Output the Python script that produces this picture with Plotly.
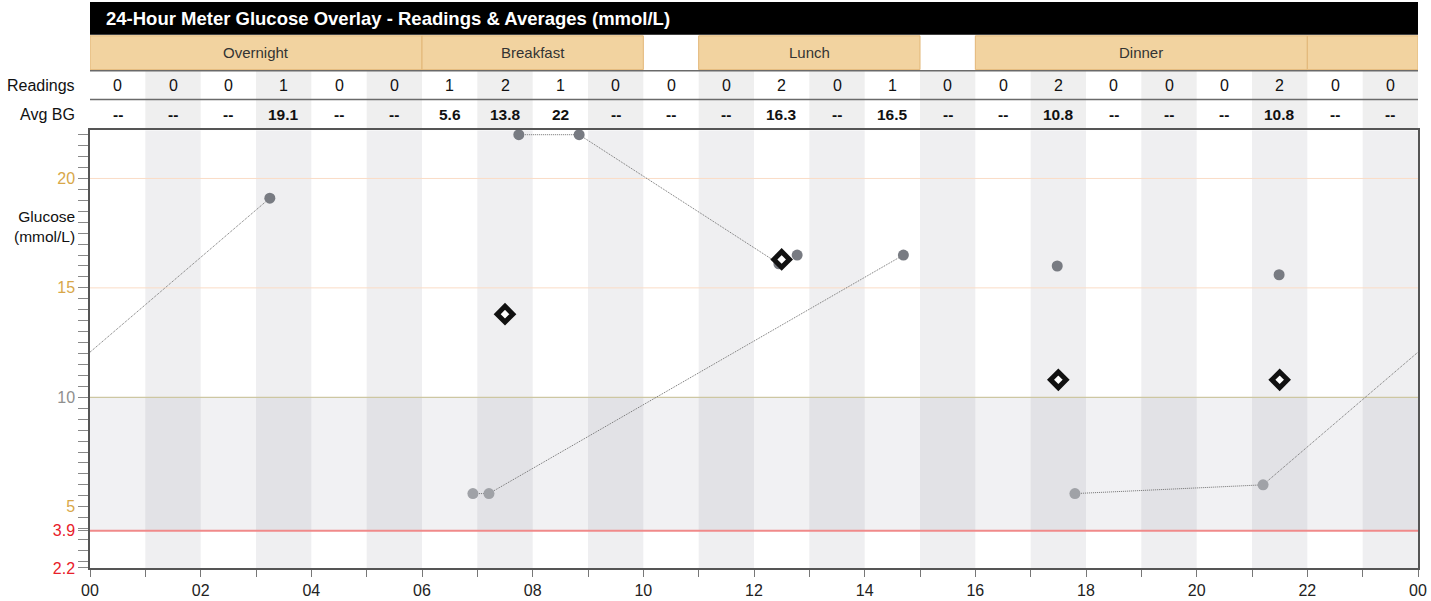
import plotly.graph_objects as go

# hourly table rows
hours = list(range(24))
readings_count = [0, 0, 0, 1, 0, 0, 1, 2, 1, 0, 0, 0, 2, 0, 1, 0, 0, 2, 0, 0, 0, 2, 0, 0]
avg_bg = [None, None, None, 19.1, None, None, 5.6, 13.8, 22, None, None, None,
          16.3, None, 16.5, None, None, 10.8, None, None, None, 10.8, None, None]

# meal periods (start hour, end hour, label)
meal_start = [0, 6, 11, 16, 22]
meal_end = [6, 10, 15, 22, 24]
meal_label = ["Overnight", "Breakfast", "Lunch", "Dinner", ""]

# meter readings, one list per day (connected), plus single readings
day1_time = [6.92, 7.21, 14.7]
day1_bg = [5.6, 5.6, 16.5]
day2_time = [7.75, 8.84, 12.45]
day2_bg = [22.0, 22.0, 16.1]
day3_time = [17.8, 21.2]
day3_bg = [5.6, 6.0]
next_day_time = [3.25]
next_day_bg = [19.1]
single_time = [12.78, 17.48, 21.49]
single_bg = [16.5, 16.0, 15.6]

x_labels = ["00", "02", "04", "06", "08", "10", "12", "14", "16", "18", "20", "22", "00"]

W, H = 1431, 601
TOP, BOT = 2, 30
FONT = "Liberation Sans, Arial, sans-serif"


def py(px):
    # pixel row -> paper y
    return (H - BOT - px) / (H - BOT - TOP)


fig = go.Figure()

line_style = dict(color="#6f6f6f", width=1, dash="1px,1px")

# daily connecting lines
for t, v in [(day1_time, day1_bg), (day2_time, day2_bg), (day3_time, day3_bg)]:
    fig.add_trace(go.Scatter(x=t, y=v, mode="lines", line=line_style,
                             hoverinfo="skip", showlegend=False))

# wrap line from last reading of the day to the next day's first reading
t0, v0 = day3_time[-1], day3_bg[-1]
t1, v1 = next_day_time[0] + 24, next_day_bg[0]
wrap = v0 + (24 - t0) / (t1 - t0) * (v1 - v0)
fig.add_trace(go.Scatter(x=[t0, 24], y=[v0, wrap], mode="lines", line=line_style,
                         hoverinfo="skip", showlegend=False))
fig.add_trace(go.Scatter(x=[0, next_day_time[0]], y=[wrap, v1], mode="lines", line=line_style,
                         hoverinfo="skip", showlegend=False))

# reading markers
all_t = day1_time + day2_time + day3_time + next_day_time + single_time
all_v = day1_bg + day2_bg + day3_bg + next_day_bg + single_bg
colors = ["#a0a2a7" if 3.9 <= v <= 10 else "#787b82" for v in all_v]
fig.add_trace(go.Scatter(x=all_t, y=all_v, mode="markers",
                         marker=dict(size=11, color=colors),
                         showlegend=False, cliponaxis=False))

# hourly averages (hours with 2+ readings)
avg_x = [h + 0.5 for h, c in zip(hours, readings_count) if c >= 2]
avg_y = [a for a, c in zip(avg_bg, readings_count) if c >= 2]
fig.add_trace(go.Scatter(x=avg_x, y=avg_y, mode="markers",
                         marker=dict(symbol="diamond", size=12, color="white",
                                     line=dict(color="#111111", width=5)),
                         showlegend=False))

shapes = []
# hour stripes in plot and table
for h in hours:
    if h % 2 == 1:
        shapes.append(dict(type="rect", xref="x", yref="y", x0=h, x1=h + 1, y0=2.2, y1=22.2,
                           fillcolor="#efeff1", line=dict(width=0), layer="below"))
        shapes.append(dict(type="rect", xref="x", yref="paper", x0=h, x1=h + 1,
                           y0=py(130), y1=py(71),
                           fillcolor="#efefef", line=dict(width=0), layer="below"))
# target band
shapes.append(dict(type="rect", xref="x", yref="y", x0=0, x1=24, y0=3.9, y1=10,
                   fillcolor="rgba(60,60,90,0.07)", line=dict(width=0), layer="below"))
# reference lines
for yv, col, w in [(20, "#fadcc6", 1), (15, "#fadcc6", 1), (10, "#cdc7a2", 1.2), (3.9, "#f08a8a", 2)]:
    shapes.append(dict(type="line", xref="x", yref="y", x0=0, x1=24, y0=yv, y1=yv,
                       line=dict(color=col, width=w), layer="below"))

# title bar
shapes.append(dict(type="rect", xref="x", yref="paper", x0=0, x1=24, y0=py(35), y1=py(2),
                   fillcolor="black", line=dict(width=0)))
# meal row
for s, e in zip(meal_start, meal_end):
    shapes.append(dict(type="rect", xref="x", yref="paper", x0=s, x1=e, y0=py(70), y1=py(36),
                       fillcolor="#f2d3a0", line=dict(color="#e2b677", width=1)))
# table borders
for ypx in [71, 100]:
    shapes.append(dict(type="line", xref="x", yref="paper", x0=0, x1=24, y0=py(ypx), y1=py(ypx),
                       line=dict(color="#6a6a6a", width=1.5)))

annotations = [
    dict(text="<b>24-Hour Meter Glucose Overlay - Readings & Averages (mmol/L)</b>",
         xref="paper", yref="paper", x=14 / 1328, y=py(18.5), xanchor="left", yanchor="middle",
         showarrow=False, font=dict(color="white", size=18.5)),
    dict(text="Readings", xref="paper", yref="paper", x=-13 / 1328, y=py(85.5),
         xanchor="right", yanchor="middle", showarrow=False, font=dict(size=16, color="#111")),
    dict(text="Avg BG", xref="paper", yref="paper", x=-13 / 1328, y=py(115),
         xanchor="right", yanchor="middle", showarrow=False, font=dict(size=16, color="#111")),
    dict(text="Glucose<br>(mmol/L)", xref="paper", yref="y", x=-13 / 1328, y=17.8,
         xanchor="right", yanchor="middle", align="right", showarrow=False,
         font=dict(size=15.5, color="#111")),
]
for s, e, lab in zip(meal_start, meal_end, meal_label):
    if lab:
        annotations.append(dict(text=lab, xref="x", yref="paper", x=(s + e) / 2, y=py(53),
                                xanchor="center", yanchor="middle",
                                showarrow=False, font=dict(size=15, color="#333")))
for h, c, a in zip(hours, readings_count, avg_bg):
    annotations.append(dict(text=str(c), xref="x", yref="paper", x=h + 0.5, y=py(85.5),
                            xanchor="center", yanchor="middle",
                            showarrow=False, font=dict(size=16, color="#111")))
    txt = "--" if a is None else f"{a:g}"
    annotations.append(dict(text=f"<b>{txt}</b>", xref="x", yref="paper", x=h + 0.5, y=py(115),
                            xanchor="center", yanchor="middle",
                            showarrow=False, font=dict(size=15.5, color="#111")))

gold, grey, red = "#d8a748", "#8f8f8f", "#e8202a"
y_ticks = [2.2, 3.9, 5, 10, 15, 20]
y_colors = [red, red, gold, grey, gold, gold]
y_text = [f"<span style='color:{c}'>{v:g}</span>" for v, c in zip(y_ticks, y_colors)]

fig.update_layout(
    width=W, height=H,
    margin=dict(l=90, r=13, t=TOP, b=BOT),
    plot_bgcolor="white", paper_bgcolor="white",
    font=dict(family=FONT, color="#111"),
    shapes=shapes, annotations=annotations,
    xaxis=dict(range=[0, 24], tickvals=list(range(0, 25, 2)), ticktext=x_labels,
               ticks="outside", ticklen=7, tickcolor="#777",
               minor=dict(dtick=1, ticks="outside", ticklen=7, tickcolor="#777"),
               showline=True, linecolor="#555", linewidth=1.5, mirror=True,
               showgrid=False, zeroline=False, tickfont=dict(size=16, color="#222")),
    yaxis=dict(range=[2.2, 22.2], domain=[0, py(131)], tickvals=y_ticks, ticktext=y_text,
               ticks="outside", ticklen=10, tickcolor="#888",
               minor=dict(dtick=0.5, tick0=0, ticks="outside", ticklen=10, tickcolor="#888"),
               showline=True, linecolor="#555", linewidth=1.5, mirror=True,
               showgrid=False, zeroline=False, tickfont=dict(size=16)),
)

fig.write_html("out.html", config={"displayModeBar": False},
               post_script="document.body.style.margin='0';document.body.style.overflow='hidden';")
